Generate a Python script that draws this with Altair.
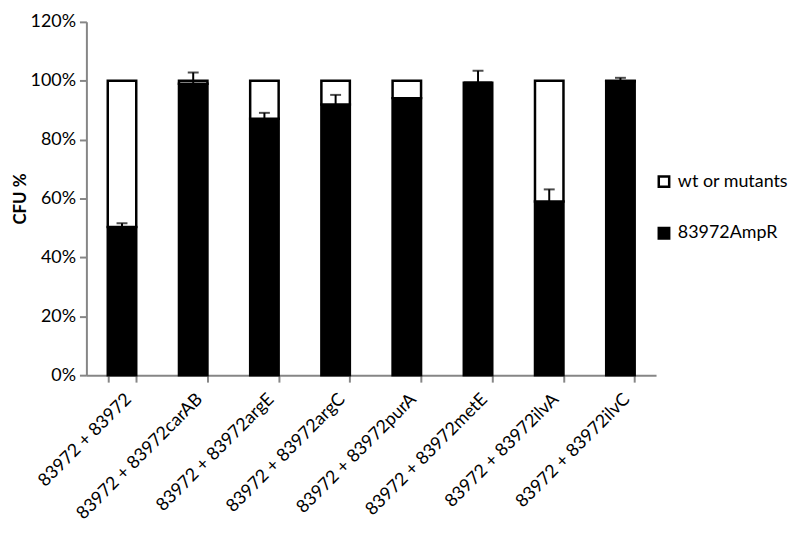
import altair as alt
import pandas as pd

categories = [
    "83972 + 83972",
    "83972 + 83972carAB",
    "83972 + 83972argE",
    "83972 + 83972argC",
    "83972 + 83972purA",
    "83972 + 83972metE",
    "83972 + 83972ilvA",
    "83972 + 83972ilvC",
]
ampr = [50.3, 99.0, 87.1, 91.9, 94.1, 99.3, 59.0, 99.8]
wt = [49.7, 1.0, 12.9, 8.1, 5.9, 0.0, 41.0, 0.2]
err = [1.3, 3.8, 2.0, 3.3, 0.0, 4.1, 4.1, 1.2]
series_names = ["wt or mutants", "83972AmpR"]
y_ticks = [0, 20, 40, 60, 80, 100, 120]

rows = []
for c, a, w in zip(categories, ampr, wt):
    rows.append({"cat": c, "series": series_names[1], "value": a, "ord": 0})
    rows.append({"cat": c, "series": series_names[0], "value": w, "ord": 1})
bars_df = pd.DataFrame(rows)

err_df = pd.DataFrame({
    "cat": categories,
    "lo": ampr,
    "hi": [a + e for a, e in zip(ampr, err)],
    "err": err,
})
err_df = err_df[err_df["err"] > 0]

FONT = "Lato"
AX = "#868686"

x_enc = alt.X(
    "cat:N",
    sort=categories,
    scale=alt.Scale(paddingInner=0.6, paddingOuter=0.3),
    axis=alt.Axis(
        title=None,
        labelAngle=-45,
        tickBand="extent",
        labelPadding=8,
        labelFontSize=18,
    ),
)
y_scale = alt.Scale(domain=[0, 120], nice=False)

bars = alt.Chart(bars_df).mark_bar(stroke="black", strokeWidth=2.5).encode(
    x=x_enc,
    y=alt.Y(
        "value:Q",
        stack="zero",
        scale=y_scale,
        axis=alt.Axis(
            title="CFU %",
            values=y_ticks,
            labelExpr="datum.value + '%'",
            labelFontSize=18,
            labelPadding=4,
            titleFont=FONT,
            titleFontSize=17,
            titleFontWeight="bold",
            titleX=-66,
            titleBaseline="middle",
        ),
    ),
    color=alt.Color(
        "series:N",
        scale=alt.Scale(domain=series_names, range=["white", "black"]),
        legend=alt.Legend(
            title=None,
            orient="none",
            legendX=573,
            legendY=152,
            symbolType="square",
            symbolSize=110,
            symbolStrokeColor="black",
            symbolStrokeWidth=2.5,
            labelFont=FONT,
            labelFontSize=18,
            labelColor="black",
            rowPadding=30,
            labelOffset=5,
        ),
    ),
    order=alt.Order("ord:Q"),
)

rules = alt.Chart(err_df).mark_rule(color="black", strokeWidth=2).encode(
    x=alt.X("cat:N", sort=categories),
    y=alt.Y("lo:Q", scale=y_scale),
    y2="hi:Q",
)

caps = alt.Chart(err_df).mark_tick(
    color="black", thickness=2, size=11, orient="horizontal"
).encode(
    x=alt.X("cat:N", sort=categories),
    y=alt.Y("hi:Q", scale=y_scale),
)

chart = (
    alt.layer(bars, rules, caps)
    .properties(
        width=574,
        height=356,
        autosize=alt.AutoSizeParams(type="none"),
        padding={"left": 79, "top": 12, "right": 137, "bottom": 150},
    )
    .configure_view(stroke=None)
    .configure_axis(
        domainColor=AX,
        domainWidth=2,
        tickColor=AX,
        tickWidth=2,
        tickSize=7,
        grid=False,
        labelFont=FONT,
        labelColor="black",
    )
)

chart.save("out.html", embed_options={"renderer": "svg", "actions": False})
